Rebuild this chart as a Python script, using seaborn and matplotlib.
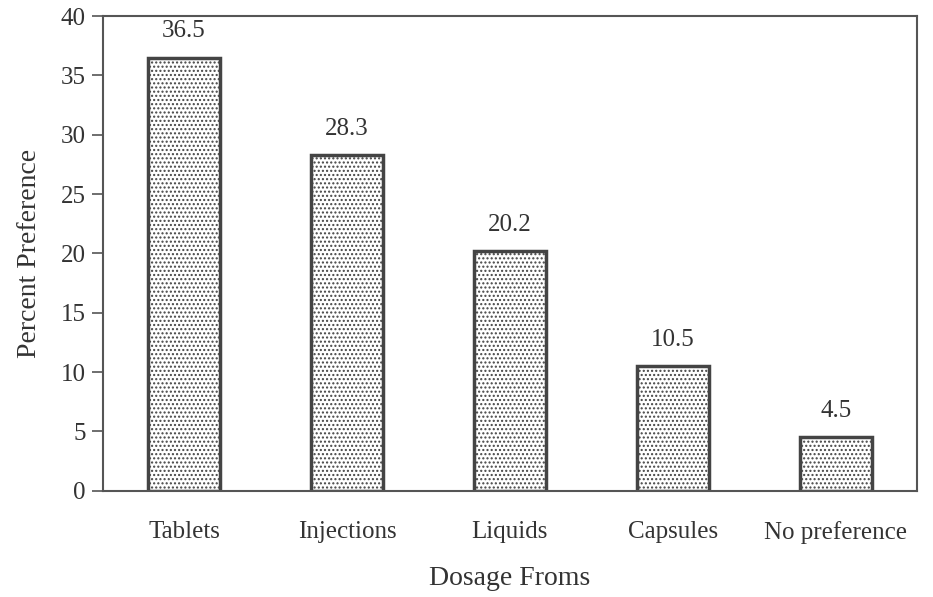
import matplotlib
matplotlib.use("Agg")
import matplotlib.pyplot as plt
import seaborn as sns
import pandas as pd

categories = ["Tablets", "Injections", "Liquids", "Capsules", "No preference"]
values = [36.5, 28.3, 20.2, 10.5, 4.5]
y_ticks = [0, 5, 10, 15, 20, 25, 30, 35, 40]

sns.set_theme(style="white")
plt.rcParams["font.family"] = ["Liberation Serif", "DejaVu Serif"]
plt.rcParams["hatch.color"] = "#444444"
plt.rcParams["hatch.linewidth"] = 1.0

df = pd.DataFrame({"Dosage": categories, "Percent": values})

fig, ax = plt.subplots(figsize=(9.33, 5.97), dpi=100)
fig.subplots_adjust(left=0.110, right=0.983, top=0.973, bottom=0.178)

sns.barplot(data=df, x="Dosage", y="Percent", ax=ax, color="white",
            edgecolor="#444444", linewidth=2.5, width=0.44, saturation=1)
for p in ax.patches:
    p.set_hatch("....")
    p.set_facecolor("white")

for i, v in enumerate(values):
    ax.text(i, v + 1.3, f"{v}", ha="center", va="bottom", fontsize=18, color="#333333")

ax.set_ylim(0, 40)
ax.set_xlim(-0.5, len(categories) - 0.5)
ax.set_yticks(y_ticks)
ax.set_yticklabels([str(t) for t in y_ticks], fontsize=18, color="#333333")
ax.set_xticks(range(len(categories)))
ax.set_xticklabels(categories, fontsize=18, color="#333333")
ax.tick_params(axis="x", which="major", length=0, pad=22)
ax.set_xticks([i + 0.5 for i in range(len(categories))], minor=True)
ax.tick_params(axis="x", which="minor", length=8, width=1.2, color="#555555", direction="out")
ax.tick_params(axis="y", length=8, width=1.2, color="#555555", direction="out", left=True, pad=4)

for s in ax.spines.values():
    s.set_visible(True)
    s.set_color("#555555")
    s.set_linewidth(1.5)

ax.set_xlabel("Dosage Froms", fontsize=20, color="#333333", labelpad=16)
ax.set_ylabel("Percent Preference", fontsize=20, color="#333333", labelpad=14)

fig.savefig("out.png", dpi=100, facecolor="white")
